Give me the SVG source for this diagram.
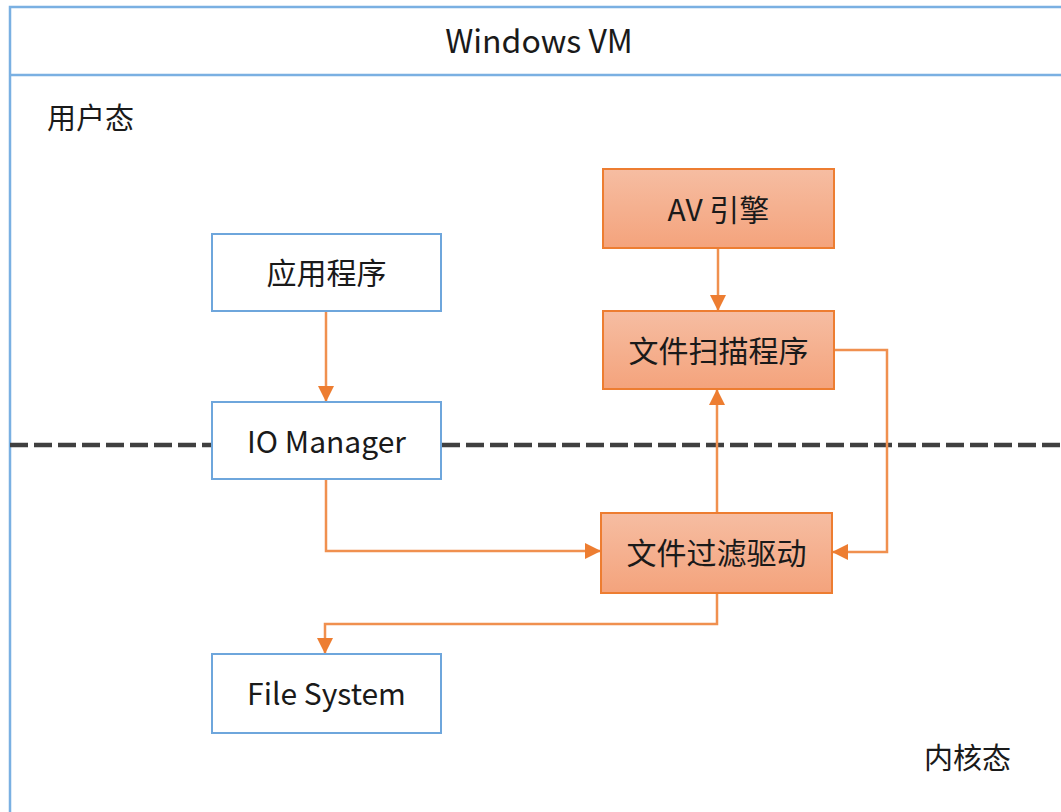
<svg xmlns="http://www.w3.org/2000/svg" width="1061" height="812" viewBox="0 0 1061 812">
<defs>
<style>
.frame{fill:none;stroke:#7AB0E2;stroke-width:2.5}
.bnode{fill:#FFFFFF;stroke:#6EA6DC;stroke-width:2}
.onode{fill:url(#og);stroke:#ED7D31;stroke-width:2}
.t{font-family:"Noto Sans CJK SC","Open Sans",sans-serif;font-size:30px;fill:#1a1a1a;text-anchor:middle;dominant-baseline:central}
.lbl{font-family:"Noto Sans CJK SC",sans-serif;font-size:29px;fill:#1a1a1a;dominant-baseline:central}
.c{fill:none;stroke:#F0904F;stroke-width:2.5}
</style>
<linearGradient id="og" x1="0" y1="0" x2="0" y2="1">
<stop offset="0" stop-color="#F6BDA2"/>
<stop offset="1" stop-color="#F4A37C"/>
</linearGradient>
<marker id="ah" viewBox="0 0 10 10" refX="10" refY="5" markerWidth="16" markerHeight="16" markerUnits="userSpaceOnUse" orient="auto">
<path d="M0,0 L10,5 L0,10 z" fill="#ED7D31"/>
</marker>
</defs>
<rect x="0" y="0" width="1061" height="812" fill="#FFFFFF"/>
<g id="frame">
<path class="frame" d="M1062,7 H10 V812"/>
<line class="frame" x1="10" y1="75" x2="1062" y2="75"/>
<text x="539" y="39" class="t" style="font-size:32px">Windows VM</text>
<text x="47" y="116" class="lbl">用户态</text>
<text x="924" y="756" class="lbl">内核态</text>
</g>
<g id="boundary">
<line x1="10" y1="445" x2="1061" y2="445" stroke="#404040" stroke-width="4.5" stroke-dasharray="18 6"/>
</g>
<g id="connectors">
<path class="c" d="M326,311 V402" marker-end="url(#ah)"/>
<path class="c" d="M326,479 V551 H601" marker-end="url(#ah)"/>
<path class="c" d="M718,248 V311" marker-end="url(#ah)"/>
<path class="c" d="M717,513 V389" marker-end="url(#ah)"/>
<path class="c" d="M834,350 H887 V552 H832" marker-end="url(#ah)"/>
<path class="c" d="M717,593 V624 H325 V654" marker-end="url(#ah)"/>
</g>
<g id="app">
<rect class="bnode" x="212" y="234" width="229" height="77"/>
<text x="326.5" y="271" class="t">应用程序</text>
</g>
<g id="io">
<rect class="bnode" x="212" y="402" width="229" height="77"/>
<text x="326.5" y="440" class="t">IO Manager</text>
</g>
<g id="fs">
<rect class="bnode" x="212" y="654" width="229" height="79"/>
<text x="326.5" y="692" class="t">File System</text>
</g>
<g id="av">
<rect class="onode" x="603" y="169" width="231" height="79"/>
<text x="718.5" y="208" class="t">AV 引擎</text>
</g>
<g id="scan">
<rect class="onode" x="603" y="311" width="231" height="78"/>
<text x="718.5" y="349" class="t">文件扫描程序</text>
</g>
<g id="filter">
<rect class="onode" x="601" y="513" width="231" height="80"/>
<text x="716.5" y="551" class="t">文件过滤驱动</text>
</g>
</svg>
